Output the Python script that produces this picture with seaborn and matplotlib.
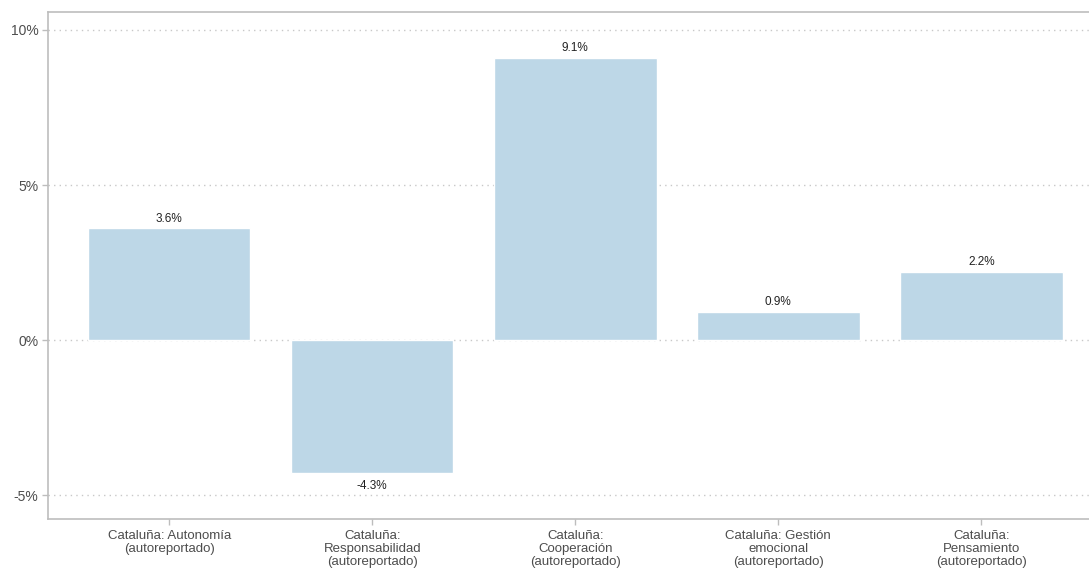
import matplotlib
matplotlib.use("Agg")
import matplotlib.pyplot as plt
import seaborn as sns
import pandas as pd
from matplotlib.ticker import FuncFormatter

categories = [
    "Cataluña: Autonomía\n(autoreportado)",
    "Cataluña:\nResponsabilidad\n(autoreportado)",
    "Cataluña:\nCooperación\n(autoreportado)",
    "Cataluña: Gestión\nemocional\n(autoreportado)",
    "Cataluña:\nPensamiento\n(autoreportado)",
]
values = [3.6, -4.3, 9.1, 0.9, 2.2]
bar_labels = ["3.6%", "-4.3%", "9.1%", "0.9%", "2.2%"]
yticks = [-5, 0, 5, 10]

df = pd.DataFrame({"cat": categories, "val": values})

sns.set_style("white")
plt.rcParams["font.family"] = ["Liberation Sans", "DejaVu Sans"]

fig = plt.figure(figsize=(10.89, 5.71), dpi=100)
ax = fig.add_axes([48 / 1089, 1 - 519 / 571, (1089 - 48 + 2) / 1089, (519 - 12) / 571])

sns.barplot(data=df, x="cat", y="val", color="#BDD7E7", saturation=1, width=0.8, ax=ax, zorder=2)

ax.set_ylim(-5.77, 10.58)
ax.set_xlim(-0.597, 4.54)
ax.set_yticks(yticks)
ax.yaxis.set_major_formatter(FuncFormatter(lambda v, p: f"{v:.0f}%"))
ax.grid(axis="y", linestyle=(0, (1, 3)), color="#c8c8c8", linewidth=1, zorder=0)
ax.grid(axis="x", visible=False)
ax.set_xlabel("")
ax.set_ylabel("")

for s in ax.spines.values():
    s.set_color("#bdbdbd")
    s.set_linewidth(1.2)

ax.tick_params(axis="both", which="both", left=True, bottom=True, direction="out", length=4,
               color="#bdbdbd", labelcolor="#4d4d4d", labelsize=10, width=1)
ax.tick_params(axis="x", pad=4, labelsize=9.5)
ax.tick_params(axis="y", pad=3)
for t in ax.get_xticklabels():
    t.set_linespacing(1.1)

for i, (v, lab) in enumerate(zip(values, bar_labels)):
    if v >= 0:
        ax.text(i, v + 0.12, lab, ha="center", va="bottom", fontsize=8.5, color="#222222")
    else:
        ax.text(i, v - 0.2, lab, ha="center", va="top", fontsize=8.5, color="#222222")

fig.savefig("out.png", dpi=100)
